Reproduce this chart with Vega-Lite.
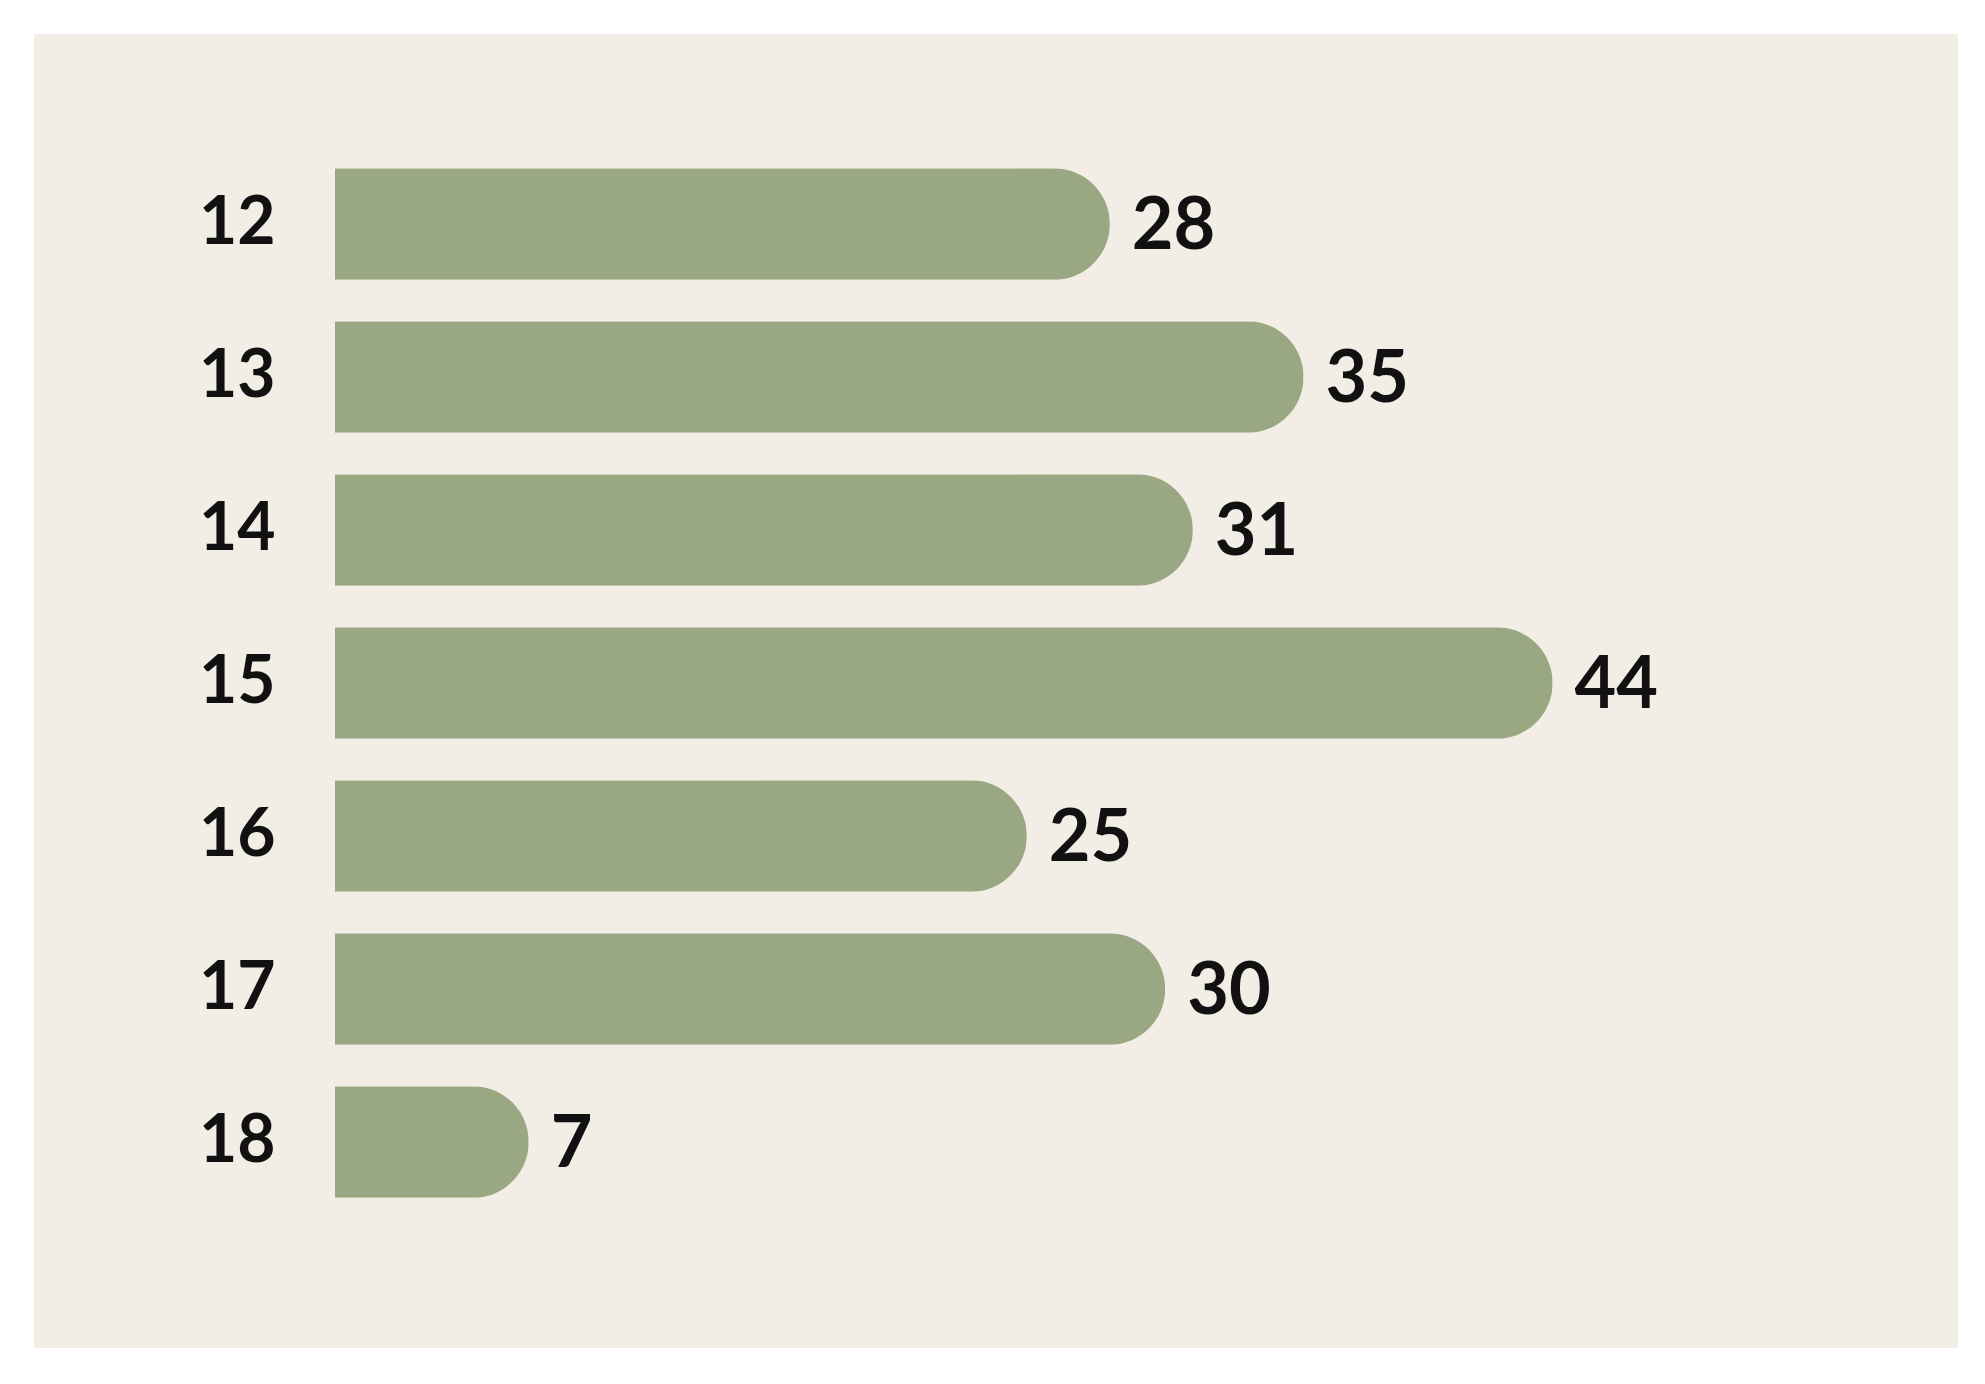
{
  "$schema": "https://vega.github.io/schema/vega-lite/v6.json",
  "width": 1924,
  "height": 1314,
  "autosize": {"type": "none"},
  "padding": {"left": 34, "top": 34, "right": 27, "bottom": 36},
  "background": "#ffffff",
  "config": {
    "view": {"fill": "#f2eee6", "stroke": null},
    "font": "Lato"
  },
  "data": {
    "values": [
      {"age": "12", "value": 28},
      {"age": "13", "value": 35},
      {"age": "14", "value": 31},
      {"age": "15", "value": 44},
      {"age": "16", "value": 25},
      {"age": "17", "value": 30},
      {"age": "18", "value": 7}
    ]
  },
  "encoding": {
    "y": {
      "field": "age",
      "type": "nominal",
      "sort": null,
      "scale": {"range": [113.5, 1184.5], "paddingInner": 0.27, "paddingOuter": 0.135},
      "axis": {
        "title": null,
        "ticks": false,
        "domain": false,
        "labelPadding": 0,
        "offset": -241,
        "labelFont": "Lato",
        "labelFontWeight": "bold",
        "labelFontSize": 66,
        "labelColor": "#111111"
      }
    },
    "x": {
      "field": "value",
      "type": "quantitative",
      "scale": {"domain": [0, 58.65], "range": [301, 1924], "nice": false},
      "axis": null
    }
  },
  "layer": [
    {
      "mark": {"type": "bar", "color": "#99a783", "cornerRadiusEnd": 56}
    },
    {
      "mark": {
        "type": "text",
        "align": "left",
        "baseline": "middle",
        "dx": 22,
        "dy": 3,
        "font": "Lato",
        "fontWeight": "bold",
        "fontSize": 72,
        "color": "#111111"
      },
      "encoding": {"text": {"field": "value", "type": "quantitative"}}
    }
  ]
}
